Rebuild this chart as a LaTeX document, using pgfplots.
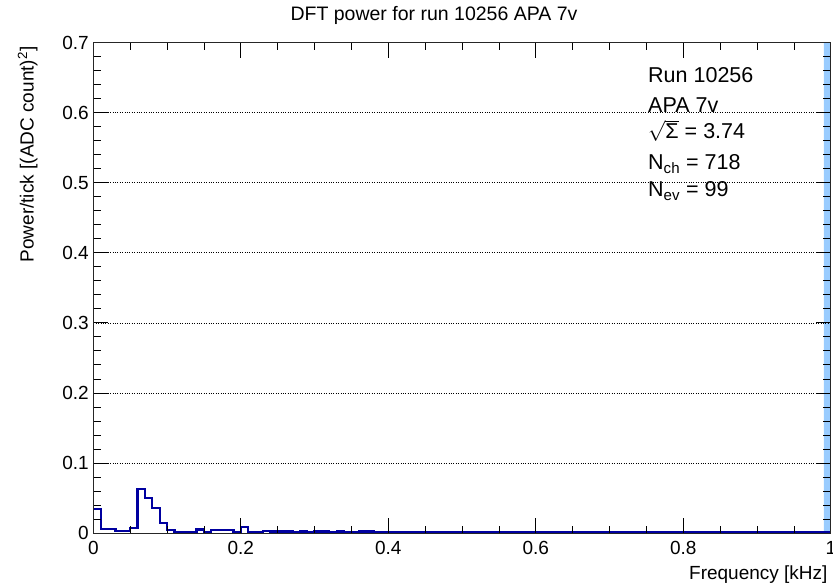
\documentclass[border=0pt]{standalone}
\usepackage{pgfplots}
\pgfplotsset{compat=1.18}
\usepackage{fontspec}
\setmainfont{Liberation Sans}
\definecolor{histblue}{RGB}{0,0,160}
\definecolor{striplb}{RGB}{153,204,255}
\begin{document}
\begin{tikzpicture}
\useasboundingbox (0pt,0pt) rectangle (833pt,584pt);
\begin{axis}[at={(93.3pt,51pt)}, anchor=south west, scale only axis,
  width=737.5pt, height=490.3pt,
  xmin=0, xmax=1, ymin=0, ymax=0.7,
  xtick={0,0.2,0.4,0.6,0.8,1}, xticklabels={0,0.2,0.4,0.6,0.8,1},
  ytick={0,0.1,0.2,0.3,0.4,0.5,0.6,0.7}, yticklabels={0,0.1,0.2,0.3,0.4,0.5,0.6,0.7},
  minor x tick num=3, minor y tick num=4,
  tick align=inside, major tick length=15pt, minor tick length=7.5pt,
  tick style={black, line width=0.8pt},
  axis line style={black!85, line width=1pt},
  ymajorgrids, grid style={black, dotted, line width=0.7pt},
  /pgf/number format/assume math mode=true,
  ticklabel style={font=\fontsize{19}{22}\selectfont},
  yticklabel style={xshift=-1pt},
  xticklabel style={yshift=-5pt},
  axis on top,
  clip=true]
\addplot[fill=striplb, draw=none] coordinates {(0.9905,0) (0.9905,0.8) (1,0.8) (1,0)} \closedcycle;
\addplot[const plot mark left, histblue, line width=2.2pt] coordinates {
(0.00,0.034) (0.01,0.0053) (0.02,0.0053) (0.03,0.0033) (0.04,0.0033)
(0.05,0.0067) (0.06,0.0624) (0.07,0.0496) (0.08,0.0353) (0.09,0.0139)
(0.10,0.0043) (0.11,0.0019) (0.12,0.0019) (0.13,0.0019) (0.14,0.005)
(0.15,0.002) (0.16,0.004) (0.17,0.004) (0.18,0.004) (0.19,0.002)
(0.20,0.009) (0.21,0.002) (0.22,0.002) (0.23,0.0033) (0.24,0.0022)
(0.25,0.0022) (0.26,0.0022) (0.27,0.002) (0.28,0.0022) (0.29,0.002)
(0.30,0.0022) (0.31,0.0022) (0.32,0.002) (0.33,0.0022) (0.34,0.001)
(0.35,0.001) (0.36,0.0022) (0.37,0.0022) (0.38,0.0008) (0.39,0.0008)
(0.40,0.0008) (0.50,0.0008) (0.60,0.0008) (0.70,0.0008) (0.80,0.0008)
(0.90,0.0008) (0.99,0.0008) (1.00,0.0008)};
\end{axis}
\node[anchor=base, font=\fontsize{19.5}{23}\selectfont] at (434pt,563pt) {DFT power for run 10256 APA 7v};
\node[anchor=base east, font=\fontsize{19}{22}\selectfont] at (831pt,5pt) {Frequency [kHz]};
\node[rotate=90, anchor=base east, font=\fontsize{19}{22}\selectfont] at (33.5pt,541pt) {Power/tick [(ADC count)\textsuperscript{2}]};
\begin{scope}[every node/.style={anchor=base west, font=\fontsize{21.5}{25}\selectfont, inner sep=0pt}]
\node at (648pt,501pt) {Run 10256};
\node at (648pt,471pt) {APA 7v};
\node at (648pt,445pt) {$\sqrt{\mbox{Σ}}$ = 3.74};
\node at (648pt,414pt) {N\textsubscript{ch} = 718};
\node at (648pt,387pt) {N\textsubscript{ev} = 99};
\end{scope}
\end{tikzpicture}
\end{document}
